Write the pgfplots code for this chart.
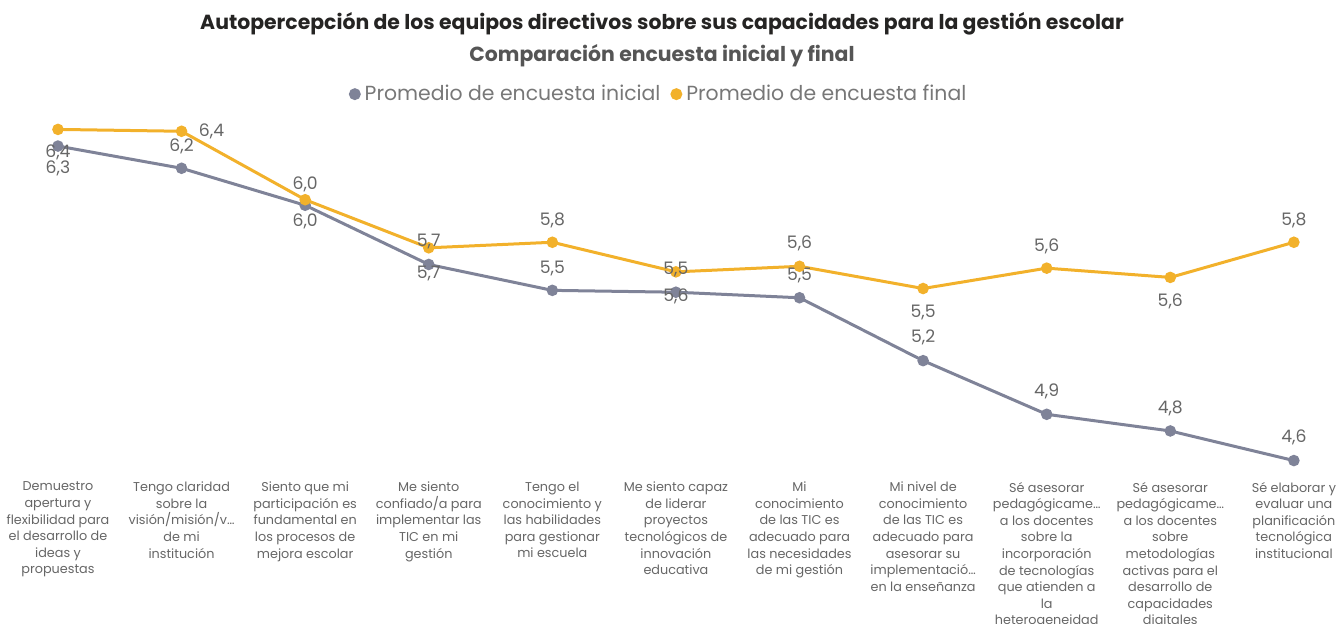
\documentclass[border=0pt]{standalone}
\usepackage{fontspec}
\setmainfont{Poppins}
\usepackage{pgfplots}
\usepackage{pgfplotstable}
\pgfplotsset{compat=1.18}
\definecolor{cinicial}{HTML}{7F8398}
\definecolor{cfinal}{HTML}{F2B12B}
\definecolor{lbl}{HTML}{666666}
\definecolor{titlec}{HTML}{252423}
\definecolor{subc}{HTML}{555555}
\definecolor{legc}{HTML}{777777}

% x, value, shown label, label shift (pt)
\pgfplotstableread{
x y lab dx dy
0 6.30 6,3 0 -11
1 6.18 6,2 0 11
2 5.98 6,0 0 -8
3 5.66 5,7 0 -4.5
4 5.52 5,5 0 11
5 5.51 5,6 0 -2
6 5.48 5,5 0 11
7 5.14 5,2 0 11.5
8 4.85 4,9 0 11.5
9 4.76 4,8 0 11.5
10 4.60 4,6 0 11.5
}\tabinicial

\pgfplotstableread{
x y lab dx dy
0 6.39 6,4 0 -11.5
1 6.38 6,4 15 0
2 6.01 6,0 0 7.5
3 5.75 5,7 0 3
4 5.78 5,8 0 11
5 5.62 5,5 0 1
6 5.65 5,6 0 11.5
7 5.53 5,5 0 -12
8 5.64 5,6 0 11
9 5.59 5,6 0 -12
10 5.78 5,8 0 11
}\tabfinal

\begin{document}
\begin{tikzpicture}
\begin{axis}[
  name=ax,
  scale only axis,
  width=669pt, height=180pt,
  xmin=-0.469, xmax=10.357,
  ymin=4.549, ymax=6.495,
  axis line style={draw=none},
  tick style={draw=none},
  ytick=\empty,
  xtick={0,1,2,3,4,5,6,7,8,9,10},
  xticklabels={
    {Demuestro\\apertura y\\flexibilidad para\\el desarrollo de\\ideas y\\propuestas},
    {Tengo claridad\\sobre la\\visión/misión/v…\\de mi\\institución},
    {Siento que mi\\participación es\\fundamental en\\los procesos de\\mejora escolar},
    {Me siento\\confiado/a para\\implementar las\\TIC en mi\\gestión},
    {Tengo el\\conocimiento y\\las habilidades\\para gestionar\\mi escuela},
    {Me siento capaz\\de liderar\\proyectos\\tecnológicos de\\innovación\\educativa},
    {Mi\\conocimiento\\de las TIC es\\adecuado para\\las necesidades\\de mi gestión},
    {Mi nivel de\\conocimiento\\de las TIC es\\adecuado para\\asesorar su\\implementació…\\en la enseñanza},
    {Sé asesorar\\pedagógicame…\\a los docentes\\sobre la\\incorporación\\de tecnologías\\que atienden a\\la\\heterogeneidad},
    {Sé asesorar\\pedagógicame…\\a los docentes\\sobre\\metodologías\\activas para el\\desarrollo de\\capacidades\\digitales},
    {Sé elaborar y\\evaluar una\\planificación\\tecnológica\\institucional}
  },
  xticklabel style={align=center, font=\fontsize{6.4}{8.3}\selectfont,
    text=lbl, anchor=north, inner sep=0pt, yshift=-5.8pt},
  clip=false,
  legend style={at={(0.493,1.044)}, anchor=center, draw=none, fill=none,
    legend columns=2, font=\fontsize{10.2}{12}\selectfont, text=legc,
    /tikz/every even column/.append style={column sep=3pt},
    /tikz/every odd column/.append style={column sep=0pt}},
  legend image code/.code={\fill (0.15cm,0) circle (2.2pt);},
]
\addplot[color=cinicial, line width=1.5pt, mark=*, mark size=2.1pt,
  nodes near coords, point meta=explicit symbolic,
  visualization depends on={\thisrow{dx}\as\lblx},
  visualization depends on={\thisrow{dy}\as\lbly},
  every node near coord/.append style={anchor=center, xshift=\lblx pt,
    yshift=\lbly pt, font=\fontsize{8.6}{10}\selectfont, text=lbl}]
  table[x=x, y=y, meta=lab]{\tabinicial};
\addlegendentry{Promedio de encuesta inicial}
\addplot[color=cfinal, line width=1.5pt, mark=*, mark size=2.1pt,
  nodes near coords, point meta=explicit symbolic,
  visualization depends on={\thisrow{dx}\as\lblx},
  visualization depends on={\thisrow{dy}\as\lbly},
  every node near coord/.append style={anchor=center, xshift=\lblx pt,
    yshift=\lbly pt, font=\fontsize{8.6}{10}\selectfont, text=lbl}]
  table[x=x, y=y, meta=lab]{\tabfinal};
\addlegendentry{Promedio de encuesta final}
\end{axis}
\node[font=\bfseries\fontsize{10.2}{12}\selectfont, text=titlec]
  at ([yshift=43pt, xshift=-3.5pt]ax.north) {Autopercepción de los equipos directivos sobre sus capacidades para la gestión escolar};
\node[font=\bfseries\fontsize{10.2}{12}\selectfont, text=subc]
  at ([yshift=27pt, xshift=-3.5pt]ax.north) {Comparación encuesta inicial y final};
\pgfresetboundingbox
\path[use as bounding box] ([yshift=-77pt]ax.south west) rectangle ([yshift=55pt]ax.north east);
\end{tikzpicture}
\end{document}
